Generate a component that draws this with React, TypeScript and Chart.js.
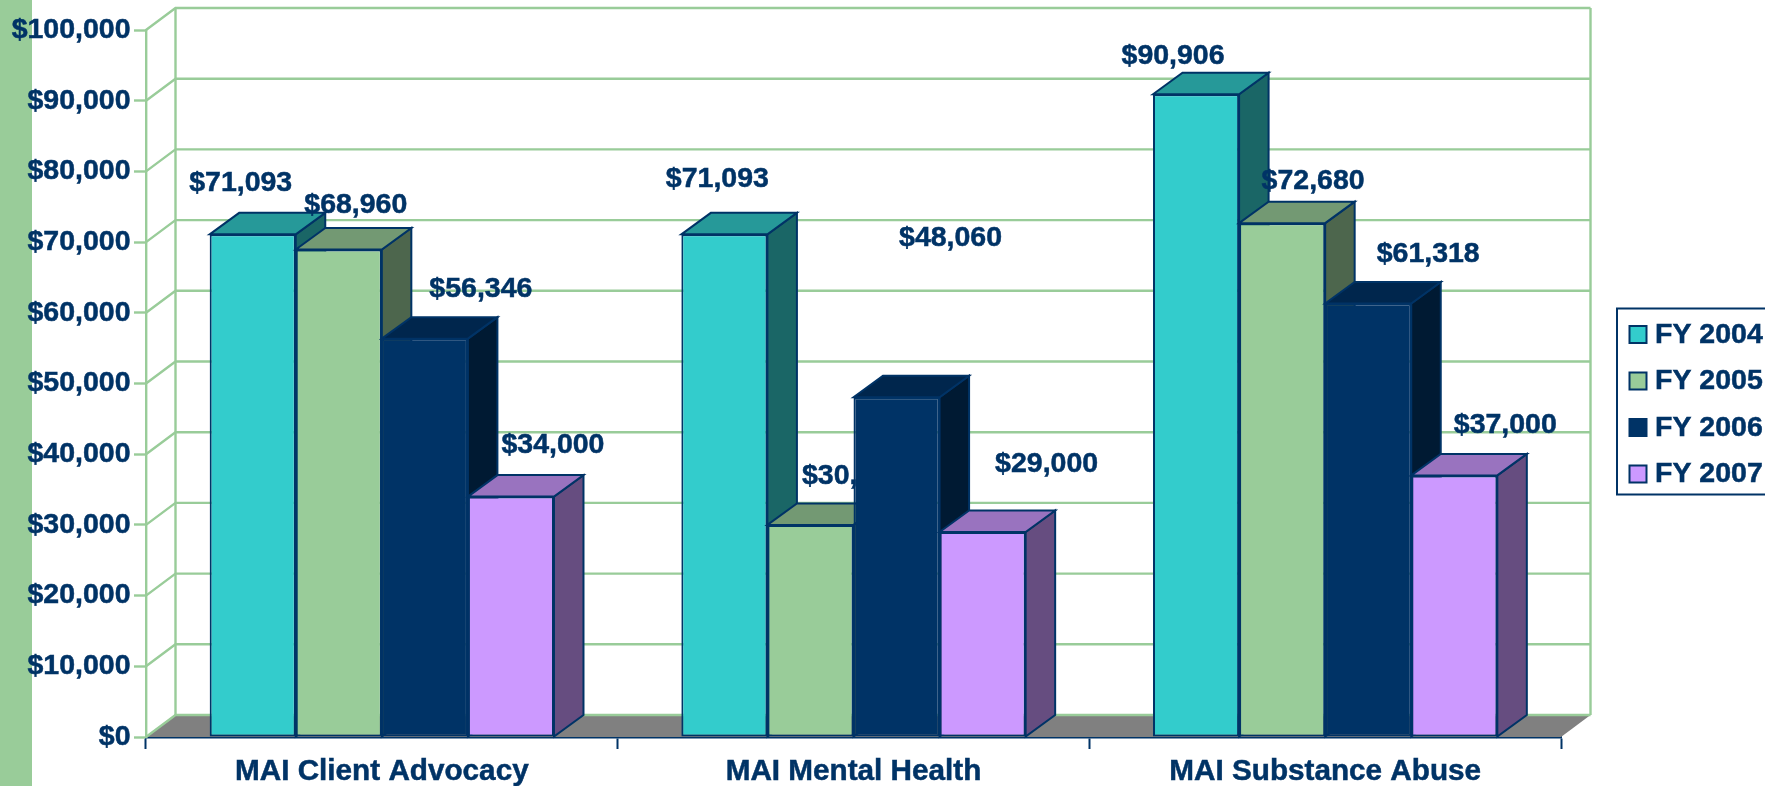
import React, { useEffect, useRef } from "react";
import { Chart, registerables } from "chart.js";

Chart.register(...registerables);

const categories = ["MAI Client Advocacy", "MAI Mental Health", "MAI Substance Abuse"];
const fy2004 = [71093, 71093, 90906];
const fy2005 = [68960, 30000, 72680];
const fy2006 = [56346, 48060, 61318];
const fy2007 = [34000, 29000, 37000];

const NAVY = "#003366";
const GREEN = "#99CC99";
const FONT = '"Liberation Sans", Arial, sans-serif';

// colours per series: front, top, side
const faces = [
  ["#33CCCC", "#269999", "#1A6666"],
  ["#99CC99", "#739973", "#4D664D"],
  ["#003366", "#00264D", "#001A33"],
  ["#CC99FF", "#9973BF", "#664D80"],
];

// hand placed data labels in the original: offset of label centre from bar top centre
const labelOffsets = [
  [[-12, -51], [-7, -55], [-23, -38.5]],
  [[17, -44], [43, -49], [31, -42]],
  [[56, -49.5], [54, -159], [60, -49.5]],
  [[42, -51], [64, -68], [51, -50]],
];

const WALL_DX = 29.5;
const WALL_DY = 22;
const BAR_DX = 29.5;
const BAR_DY = 21.5;

const money = (v: number) => "$" + Number(v).toLocaleString("en-US");

function poly(ctx: CanvasRenderingContext2D, pts: number[][], fill: string | null, stroke: string | null, lw = 2) {
  ctx.beginPath();
  pts.forEach((p, i) => (i ? ctx.lineTo(p[0], p[1]) : ctx.moveTo(p[0], p[1])));
  if (fill) {
    ctx.closePath();
    ctx.fillStyle = fill;
    ctx.fill();
  }
  if (stroke) {
    ctx.strokeStyle = stroke;
    ctx.lineWidth = lw;
    ctx.lineJoin = "miter";
    ctx.stroke();
  }
}

function heavyText(ctx: CanvasRenderingContext2D, text: string, x: number, y: number) {
  ctx.strokeStyle = NAVY;
  ctx.lineWidth = 0.5;
  ctx.strokeText(text, x, y);
  ctx.fillStyle = NAVY;
  ctx.fillText(text, x, y);
}

const scenePlugin = {
  id: "scene3d",
  beforeDraw(chart: any) {
    const { ctx, height } = chart;
    ctx.save();
    ctx.fillStyle = GREEN;
    ctx.fillRect(0, 0, 32, height);
    ctx.restore();
  },
  // the per-dataset drawing is taken over so the series paint front to back, left to right
  beforeDatasetDraw() {
    return false;
  },
  beforeDatasetsDraw(chart: any) {
    const { ctx, chartArea: a, scales } = chart;
    const y = scales.y;
    ctx.save();
    poly(
      ctx,
      [
        [a.left, a.bottom],
        [a.left + WALL_DX, a.bottom - WALL_DY],
        [a.right + WALL_DX, a.bottom - WALL_DY],
        [a.right, a.bottom],
      ],
      "#808080",
      null
    );
    y.ticks.forEach((t: any) => {
      const py = y.getPixelForValue(t.value);
      poly(ctx, [[a.left, py], [a.left + WALL_DX, py - WALL_DY], [a.right + WALL_DX, py - WALL_DY]], null, GREEN, 2.4);
    });
    poly(ctx, [[a.left + WALL_DX, a.top - WALL_DY], [a.left + WALL_DX, a.bottom - WALL_DY]], null, GREEN, 2.4);
    poly(ctx, [[a.right + WALL_DX, a.top - WALL_DY], [a.right + WALL_DX, a.bottom - WALL_DY]], null, GREEN, 2.4);

    chart.data.datasets.forEach((ds: any, index: number) => {
      const meta = chart.getDatasetMeta(index);
      const f = faces[index];
      meta.data.forEach((b: any) => {
        const half = b.width / 2;
        const l = b.x - half;
        const r = b.x + half;
        const t = b.y;
        const base = b.base;
        poly(ctx, [[r, t], [r + BAR_DX, t - BAR_DY], [r + BAR_DX, base - BAR_DY], [r, base], [r, t]], f[2], NAVY);
        poly(ctx, [[l, t], [l + BAR_DX, t - BAR_DY], [r + BAR_DX, t - BAR_DY], [r, t], [l, t]], f[1], NAVY);
      });
      meta.controller.draw();
      ctx.save();
      ctx.font = `bold 28.5px ${FONT}`;
      ctx.textAlign = "center";
      ctx.textBaseline = "middle";
      meta.data.forEach((b: any, i: number) => {
        const o = labelOffsets[index][i];
        heavyText(ctx, money(ds.data[i]), b.x + o[0], b.y + o[1]);
      });
      ctx.restore();
    });
    ctx.restore();
  },
  afterDraw(chart: any) {
    const { ctx } = chart;
    ctx.save();
    const bx = 1617;
    const by = 308.5;
    ctx.strokeStyle = NAVY;
    ctx.lineWidth = 2;
    ctx.strokeRect(bx, by, 170, 186);
    ctx.font = `bold 28.5px ${FONT}`;
    ctx.textBaseline = "middle";
    ctx.textAlign = "left";
    chart.data.datasets.forEach((ds: any, i: number) => {
      const cy = 334.5 + i * 46.5;
      ctx.fillStyle = ds.backgroundColor;
      ctx.fillRect(1629.5, cy - 8.5, 17, 17);
      ctx.strokeStyle = NAVY;
      ctx.lineWidth = 2;
      ctx.strokeRect(1629.5, cy - 8.5, 17, 17);
      heavyText(ctx, ds.label, 1655, cy + 0.5);
    });
    ctx.restore();
  },
};

export default function App() {
  const ref = useRef<HTMLCanvasElement>(null);
  useEffect(() => {
    const series = [fy2004, fy2005, fy2006, fy2007];
    const names = ["FY 2004", "FY 2005", "FY 2006", "FY 2007"];
    const chart = new Chart(ref.current as HTMLCanvasElement, {
      type: "bar",
      data: {
        labels: categories,
        datasets: series.map((data, i) => ({
          label: names[i],
          data,
          backgroundColor: faces[i][0],
          borderColor: NAVY,
          borderWidth: 2,
          borderSkipped: false,
          categoryPercentage: 0.73,
          barPercentage: 1,
        })),
      },
      options: {
        animation: false,
        responsive: false,
        layout: { padding: { top: 30, right: 204, left: 0, bottom: 0 } },
        plugins: { legend: { display: false }, tooltip: { enabled: false } },
        scales: {
          x: {
            afterFit: (s: any) => {
              s.height = 49;
            },
            grid: { drawOnChartArea: false, color: NAVY, tickColor: NAVY, tickLength: 12, tickWidth: 2 },
            border: { color: NAVY, width: 2.5 },
            ticks: {
              color: NAVY,
              font: { family: FONT, weight: "bold", size: 29.7 },
              padding: 5,
              autoSkip: false,
              maxRotation: 0,
              textStrokeColor: NAVY,
              textStrokeWidth: 0.5,
            },
          },
          y: {
            min: 0,
            max: 100000,
            afterFit: (s: any) => {
              s.width = 146;
            },
            grid: { drawOnChartArea: false, color: GREEN, tickColor: GREEN, tickLength: 12, tickWidth: 2.4 },
            border: { color: GREEN, width: 2.4 },
            ticks: {
              stepSize: 10000,
              color: NAVY,
              padding: 3.5,
              font: { family: FONT, weight: "bold", size: 28.5 },
              textStrokeColor: NAVY,
              textStrokeWidth: 0.5,
              callback: (v: any) => money(v),
            },
          },
        },
      },
      plugins: [scenePlugin],
    } as any);
    return () => chart.destroy();
  }, []);
  return (
    <div style={{ position: "absolute", left: 0, top: 0, width: 1765, height: 786, overflow: "hidden", background: "#fff" }}>
      <canvas ref={ref} width={1765} height={786} style={{ display: "block" }} />
    </div>
  );
}
